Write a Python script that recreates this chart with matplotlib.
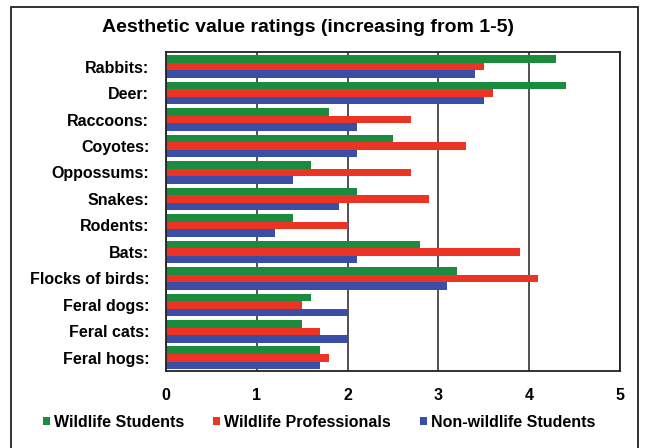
"""Horizontal grouped bar chart of aesthetic value ratings by respondent group."""

import matplotlib

matplotlib.use("Agg")
import matplotlib.pyplot as plt
import numpy as np
from matplotlib.patches import Rectangle

plt.rcParams["font.family"] = ["Liberation Sans", "DejaVu Sans"]
plt.rcParams["font.weight"] = "bold"

animals = [
    "Rabbits:", "Deer:", "Raccoons:", "Coyotes:", "Oppossums:", "Snakes:",
    "Rodents:", "Bats:", "Flocks of birds:", "Feral dogs:", "Feral cats:",
    "Feral hogs:",
]
wildlife_students = [4.3, 4.4, 1.8, 2.5, 1.6, 2.1, 1.4, 2.8, 3.2, 1.6, 1.5, 1.7]
wildlife_professionals = [3.5, 3.6, 2.7, 3.3, 2.7, 2.9, 2.0, 3.9, 4.1, 1.5, 1.7, 1.8]
nonwildlife_students = [3.4, 3.5, 2.1, 2.1, 1.4, 1.9, 1.2, 2.1, 3.1, 2.0, 2.0, 1.7]

series = [
    ("Wildlife Students", wildlife_students, "#1b8b3d"),
    ("Wildlife Professionals", wildlife_professionals, "#ec3324"),
    ("Non-wildlife Students", nonwildlife_students, "#3a4ea6"),
]

W, H = 646, 448
fig = plt.figure(figsize=(W / 100, H / 100), dpi=100)
ax = fig.add_axes([166 / W, 1 - 371 / H, 454 / W, 319 / H])

y = np.arange(len(animals))
h = 0.285
for i, (name, vals, color) in enumerate(series):
    ax.barh(y + (i - 1) * h, vals, height=h, color=color, label=name, zorder=2)

ax.set_xlim(0, 5)
ax.set_ylim(len(animals) - 0.5, -0.55)
ax.set_xticks(range(6))
ax.set_yticks(y)
ax.set_yticklabels(animals)
ax.tick_params(axis="both", length=0, labelsize=11.5)
ax.tick_params(axis="x", pad=12)
ax.tick_params(axis="y", pad=12)
for lab in ax.get_xticklabels() + ax.get_yticklabels():
    lab.set_fontweight("bold")
ax.grid(axis="x", color="#333333", linewidth=1.2, zorder=1)
ax.set_axisbelow(True)
for sp in ax.spines.values():
    sp.set_color("#222222")
    sp.set_linewidth(1.3)

fig.text(308 / W, 1 - 27 / H, "Aesthetic value ratings (increasing from 1-5)",
         ha="center", va="center", fontsize=14, fontweight="bold")

handles, labels = ax.get_legend_handles_labels()
fig.legend(handles, labels, loc="center left",
           bbox_to_anchor=(35 / W, 1 - 422 / H), ncol=3, frameon=False,
           borderpad=0, handlelength=0.45, handleheight=0.45,
           handletextpad=0.25, columnspacing=1.8,
           prop={"weight": "bold", "size": 11.5})

# frame around the whole figure
fig.patches.append(Rectangle((11 / W, -0.05), 627 / W, 1 - 7 / H + 0.05,
                             transform=fig.transFigure, fill=False,
                             edgecolor="#222222", linewidth=1.3))

fig.savefig("out.png", dpi=100)
